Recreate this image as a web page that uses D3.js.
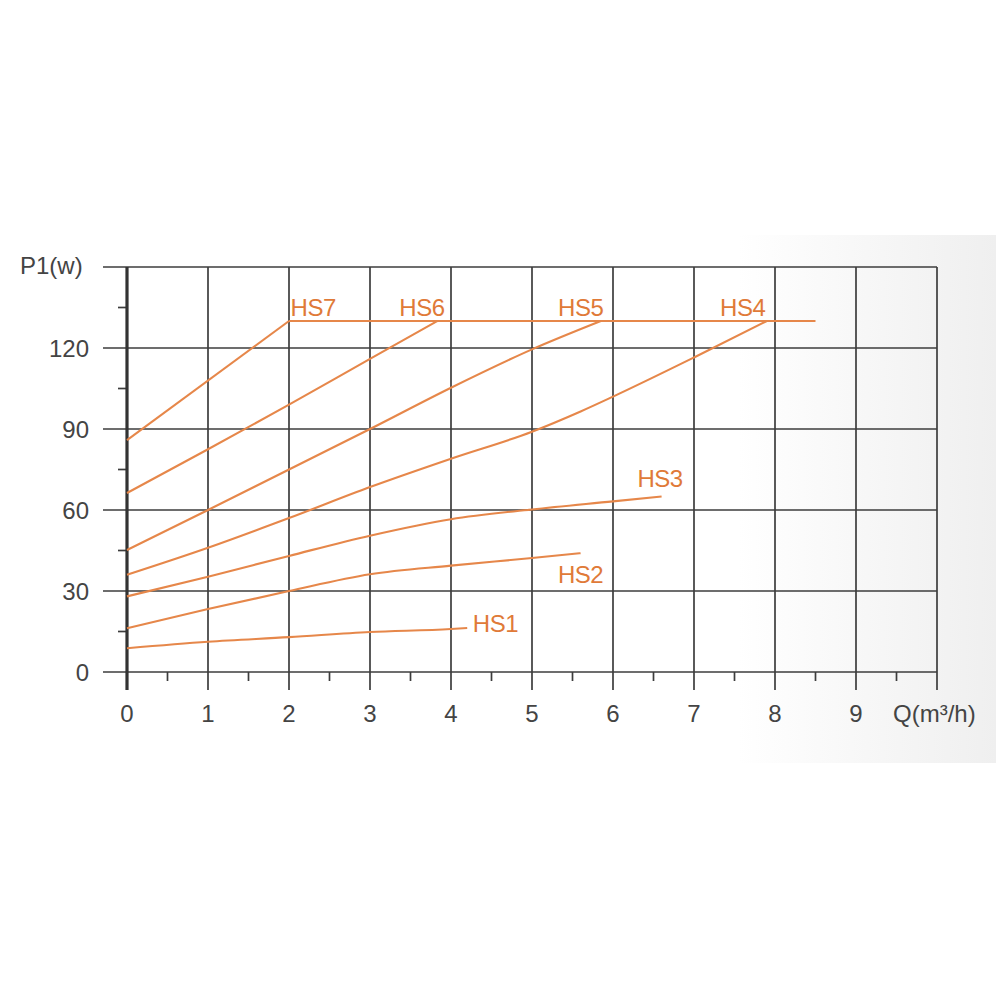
<!DOCTYPE html>
<html>
<head>
<meta charset="utf-8">
<script src="https://cdn.jsdelivr.net/npm/d3@7"></script>
<style>
  html, body { margin: 0; padding: 0; background: #fff; }
  svg { display: block; }
  text { font-family: "Liberation Sans", Arial, sans-serif; }
</style>
</head>
<body>
<div id="chart"></div>
<script>
// ---- data ----
const xTicks = [0, 1, 2, 3, 4, 5, 6, 7, 8, 9];
const yTicks = [0, 30, 60, 90, 120];
const xLabel = "Q(m³/h)";
const yLabel = "P1(w)";

const seriesNames = ["HS1", "HS2", "HS3", "HS4", "HS5", "HS6", "HS7"];
const hs1 = [[0, 8.8], [1, 11.2], [2, 12.9], [3, 14.8], [4, 15.9], [4.2, 16.3]];
const hs2 = [[0, 16.2], [1, 23.3], [2, 30], [3, 36.2], [4, 39.4], [5, 42.2], [5.6, 44]];
const hs3 = [[0, 28], [1, 35.3], [2, 43], [3, 50.5], [4, 56.6], [5, 60.2], [6, 63.2], [6.6, 65]];
const hs4 = [[0, 36], [1, 46], [2, 57], [3, 68.5], [4, 79], [5, 89], [5.6, 96.5], [6, 102], [7, 116.5], [7.9, 130]];
const hs5 = [[0, 45.2], [1, 60], [2, 75], [3, 90], [4, 105.3], [5, 119.5], [5.85, 130]];
const hs6 = [[0, 66.3], [1, 82.5], [2, 99], [3, 116], [3.83, 130]];
const hs7 = [[0, 85.9], [2, 130]];
const maxLine = [[2, 130], [8.5, 130]];
const seriesData = [hs1, hs2, hs3, hs4, hs5, hs6, hs7];

// label anchor (data coords) and text anchor
const labelX = [4.27, 5.6, 6.58, 7.88, 5.88, 3.92, 2.02];
const labelY = [14.8, 33.0, 68.7, 131.8, 131.8, 131.8, 131.8];
const labelAnchor = ["start", "middle", "middle", "end", "end", "end", "start"];

// ---- layout ----
const W = 1000, H = 1000;
const x = d3.scaleLinear().domain([0, 10]).range([127, 937]);
const y = d3.scaleLinear().domain([0, 150]).range([672, 267]);

const gridColor = "#3d3d3d";
const orange = "#e6874a";
const textOrange = "#e07a38";
const textGray = "#444444";

const svg = d3.select("#chart").append("svg").attr("width", W).attr("height", H);

// background gradient panel on the right
const defs = svg.append("defs");
const grad = defs.append("linearGradient").attr("id", "bg").attr("x1", "0").attr("x2", "1").attr("y1", "0").attr("y2", "0");
grad.append("stop").attr("offset", "0").attr("stop-color", "#ffffff");
grad.append("stop").attr("offset", "1").attr("stop-color", "#efefef");
svg.append("rect").attr("x", 738).attr("y", 235).attr("width", 258).attr("height", 528).attr("fill", "url(#bg)");

// grid: horizontal lines (extending left as major ticks)
const g = svg.append("g");
g.selectAll("line.h").data(yTicks.concat([150])).join("line")
  .attr("x1", x(0) - 24).attr("x2", x(10))
  .attr("y1", d => y(d)).attr("y2", d => y(d))
  .attr("stroke", gridColor).attr("stroke-width", 1.7);

// vertical lines (extending below as major ticks)
g.selectAll("line.v").data(d3.range(1, 11)).join("line")
  .attr("x1", d => x(d)).attr("x2", d => x(d))
  .attr("y1", y(150)).attr("y2", y(0) + 18)
  .attr("stroke", gridColor).attr("stroke-width", 1.7);

// minor ticks x
g.selectAll("line.mx").data(d3.range(0.5, 10, 1)).join("line")
  .attr("x1", d => x(d)).attr("x2", d => x(d))
  .attr("y1", y(0)).attr("y2", y(0) + 9)
  .attr("stroke", gridColor).attr("stroke-width", 1.7);

// minor ticks y
g.selectAll("line.my").data(d3.range(15, 150, 30)).join("line")
  .attr("x1", x(0) - 9).attr("x2", x(0))
  .attr("y1", d => y(d)).attr("y2", d => y(d))
  .attr("stroke", gridColor).attr("stroke-width", 1.7);

// y axis thick line
g.append("line")
  .attr("x1", x(0)).attr("x2", x(0))
  .attr("y1", y(150)).attr("y2", y(0) + 18)
  .attr("stroke", "#333").attr("stroke-width", 3.2);

// axis labels
svg.selectAll("text.yt").data(yTicks).join("text")
  .attr("x", 89).attr("y", d => y(d)).attr("dy", "0.36em")
  .attr("text-anchor", "end").attr("font-size", 24).attr("fill", textGray)
  .text(d => d);

svg.selectAll("text.xt").data(xTicks).join("text")
  .attr("x", d => x(d)).attr("y", 722)
  .attr("text-anchor", "middle").attr("font-size", 24).attr("fill", textGray)
  .text(d => d);

svg.append("text").attr("x", 893).attr("y", 722).attr("font-size", 24).attr("fill", textGray).text(xLabel);
svg.append("text").attr("x", 20).attr("y", 274).attr("font-size", 24).attr("fill", textGray).text(yLabel);

// curves
const line = d3.line().x(d => x(d[0])).y(d => y(d[1])).curve(d3.curveMonotoneX);
svg.selectAll("path.s").data(seriesData).join("path")
  .attr("d", line).attr("fill", "none")
  .attr("stroke", orange).attr("stroke-width", 2.1);
svg.append("path").attr("d", d3.line().x(d => x(d[0])).y(d => y(d[1]))(maxLine))
  .attr("fill", "none").attr("stroke", orange).attr("stroke-width", 2.1);

// series labels
svg.selectAll("text.lab").data(seriesNames).join("text")
  .attr("x", (d, i) => x(labelX[i])).attr("y", (d, i) => y(labelY[i]))
  .attr("text-anchor", (d, i) => labelAnchor[i])
  .attr("font-size", 24).attr("fill", textOrange).attr("letter-spacing", -0.5)
  .text(d => d);
</script>
</body>
</html>
